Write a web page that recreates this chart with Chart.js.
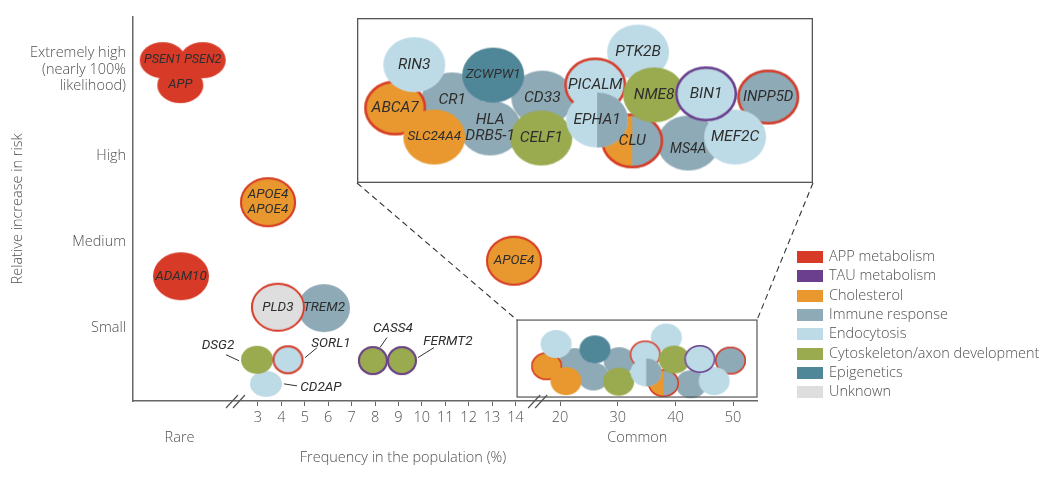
<!DOCTYPE html>
<html>
<head>
<meta charset="utf-8">
<script src="https://cdn.jsdelivr.net/npm/chart.js@4"></script>
<style>
  body { margin: 0; background: #fff; }
  #wrap { position: relative; width: 1052px; height: 479px; }
  #inset { position: absolute; left: 357px; top: 18px; }
</style>
</head>
<body>
<div id="wrap">
  <canvas id="chart" width="1052" height="479"></canvas>
  <canvas id="inset" width="456" height="165"></canvas>
</div>
<script>
// pathways (legend)
const pathways = ["APP metabolism", "TAU metabolism", "Cholesterol", "Immune response",
  "Endocytosis", "Cytoskeleton/axon development", "Epigenetics", "Unknown"];
const pathwayColors = ["#d73b28", "#6b3f8d", "#e8982f", "#8eaab6", "#bddbe6", "#99aa4f", "#4f8698", "#dedede"];

// genes in the main plot. freq in %, the rare ones (<1%) sit in the band left of the axis break
const genes = ["PSEN1", "PSEN2", "APP", "ADAM10", "APOE4\nAPOE4", "APOE4", "TREM2", "PLD3", "CD2AP", "DSG2", "SORL1", "CASS4", "FERMT2"];
const freq = [0.31, 0.88, 0.56, 0.57, 3.43, 13.94, 5.82, 3.85, 3.34, 2.96, 4.28, 7.91, 9.15];
const risk = [4.11, 4.11, 3.82, 1.60, 2.46, 1.78, 1.23, 1.24, 0.35, 0.63, 0.63, 0.62, 0.62];
const pathway = [0, 0, 0, 0, 2, 2, 3, 7, 4, 5, 4, 5, 5];
const ring = [null, null, null, null, 0, 0, null, 0, null, null, 0, 1, 1];

// common variants (small box, shown enlarged in the inset)
const commonGenes = ["CR1", "CD33", "HLA\nDRB5-1", "ABCA7", "RIN3", "ZCWPW1", "SLC24A4", "CELF1", "PTK2B",
  "PICALM", "MS4A", "CLU", "EPHA1", "NME8", "INPP5D", "MEF2C", "BIN1"];
const commonFreq = [22.55, 30.25, 25.79, 17.68, 19.31, 26.05, 21.02, 30.16, 38.43, 34.77, 42.72, 37.93, 34.93, 39.80, 49.55, 46.72, 44.24];
const commonRisk = [0.603, 0.614, 0.436, 0.555, 0.813, 0.751, 0.382, 0.376, 0.888, 0.692, 0.346, 0.359, 0.483, 0.633, 0.620, 0.382, 0.639];
const commonPathway = [3, 3, 3, 2, 4, 6, 2, 5, 4, 4, 3, 2, 4, 5, 3, 4, 4];
const commonPathway2 = [null, null, null, null, null, null, null, null, null, null, null, 3, 3, null, null, null, null];
const commonRing = [null, null, null, 0, null, null, null, null, null, 0, null, 0, null, null, 0, null, 1];

// axes
const riskLevels = [1, 2, 3, 4];
const riskLabels = [["Small"], ["Medium"], ["High"], ["Extremely high", "(nearly 100%", "likelihood)"]];
const xTickValues = [3, 4, 5, 6, 7, 8, 9, 10, 11, 12, 13, 14, 20, 30, 40, 50];
const xTickLabels = xTickValues.map(String);

// broken frequency axis: rare band | 3..14 linear | 20..50 compressed
function axisX(f) {
  if (f <= 1) return -2 + 3 * f;
  if (f <= 14) return f;
  return 15.906 + (f - 20) * 0.2464;
}

// ---- styles ----
const mainShape = [[46, 36], [46, 36], [46, 36], [56, 48], [56, 50], [56, 50], [52, 48], [54, 49],
  [32, 26], [32, 28], [31, 29], [30, 29], [30, 29]];
const mainLabelSize = { PSEN1: 12.5, PSEN2: 12.5, APP: 13 };
const insetLabelSize = { ZCWPW1: 13.5, SLC24A4: 13.5, MS4A: 14, INPP5D: 15 };
const insetLabelDy = { MS4A: 6 };
const callouts = {
  DSG2: { dx: -39, dy: -14, line: [-31, -5, -18, 1] },
  SORL1: { dx: 43, dy: -16, line: [29, -12, 17, -2] },
  CD2AP: { dx: 55, dy: 4, line: [18, 0, 31, 2] },
  CASS4: { dx: 20, dy: -32, line: [14, -23, 7, -13] },
  FERMT2: { dx: 46, dy: -19, line: [32, -13, 16, -3] }
};
const zoomBox = { x0: 14.07, x1: 24.32, y0: 0.197, y1: 1.091 };
const insetBox = { left: 357, top: 18, right: 813, bottom: 183 };
const textColor = "#505050";
const labelColor = "#2e2e2e";
const FONT = "'Open Sans', 'Liberation Sans', sans-serif";
const LABEL_FONT = "Roboto, 'Liberation Sans', sans-serif";

Chart.defaults.font.family = FONT;
Chart.defaults.font.size = 14.5;
Chart.defaults.font.weight = 300;
Chart.defaults.color = textColor;

function sprite(w, h, fill, fill2, ringColor, lw) {
  const pad = 3;
  const c = document.createElement("canvas");
  c.width = w + pad * 2;
  c.height = h + pad * 2;
  const g = c.getContext("2d");
  const cx = c.width / 2, cy = c.height / 2;
  g.save();
  g.beginPath();
  g.ellipse(cx, cy, w / 2, h / 2, 0, 0, Math.PI * 2);
  g.clip();
  g.fillStyle = fill;
  g.fillRect(0, 0, c.width, c.height);
  if (fill2) {
    g.fillStyle = fill2;
    g.fillRect(cx, 0, c.width, c.height);
  }
  g.restore();
  if (ringColor) {
    g.beginPath();
    g.ellipse(cx, cy, w / 2 - lw / 2, h / 2 - lw / 2, 0, 0, Math.PI * 2);
    g.lineWidth = lw;
    g.strokeStyle = ringColor;
    g.stroke();
  }
  return c;
}
const col = i => (i === null ? null : pathwayColors[i]);

const mainSprites = genes.map((g, i) => sprite(mainShape[i][0], mainShape[i][1], col(pathway[i]), null, col(ring[i]), 2));
const smallSprites = commonGenes.map((g, i) => sprite(31, 28, col(commonPathway[i]), col(commonPathway2[i]), col(commonRing[i]), 1.5));
const insetSprites = commonGenes.map((g, i) => sprite(62, 55, col(commonPathway[i]), col(commonPathway2[i]), col(commonRing[i]), 2.5));

function drawLabel(ctx, text, x, y, size) {
  const lines = text.split("\n");
  ctx.font = "italic " + size + "px " + LABEL_FONT;
  ctx.fillStyle = labelColor;
  ctx.textAlign = "center";
  ctx.textBaseline = "middle";
  const lh = size + 1;
  lines.forEach((l, k) => ctx.fillText(l, x, y + (k - (lines.length - 1) / 2) * lh));
}

const decor = {
  id: "decor",
  afterDatasetsDraw(chart) {
    const ctx = chart.ctx;
    const meta = chart.getDatasetMeta(1);
    ctx.save();
    meta.data.forEach((el, i) => {
      const c = callouts[genes[i]];
      const size = mainLabelSize[genes[i]] || 13.5;
      if (c) {
        ctx.strokeStyle = "#333";
        ctx.lineWidth = 1;
        ctx.beginPath();
        ctx.moveTo(el.x + c.line[0], el.y + c.line[1]);
        ctx.lineTo(el.x + c.line[2], el.y + c.line[3]);
        ctx.stroke();
        drawLabel(ctx, genes[i], el.x + c.dx, el.y + c.dy, size);
      } else {
        drawLabel(ctx, genes[i], el.x, el.y, size);
      }
    });
    ctx.restore();
  },
  afterDraw(chart) {
    const { ctx, scales: { x, y } } = chart;
    ctx.save();
    // zoom box
    const bx0 = x.getPixelForValue(zoomBox.x0), bx1 = x.getPixelForValue(zoomBox.x1);
    const by0 = y.getPixelForValue(zoomBox.y1), by1 = y.getPixelForValue(zoomBox.y0);
    ctx.strokeStyle = "#555";
    ctx.lineWidth = 1.2;
    ctx.strokeRect(bx0, by0, bx1 - bx0, by1 - by0);
    // dashed connectors to the inset
    ctx.setLineDash([6, 4]);
    ctx.strokeStyle = "#333";
    ctx.lineWidth = 1.1;
    ctx.beginPath();
    ctx.moveTo(insetBox.left, insetBox.bottom);
    ctx.lineTo(bx0, by0);
    ctx.moveTo(insetBox.right, insetBox.bottom);
    ctx.lineTo(bx1, by0);
    ctx.stroke();
    ctx.setLineDash([]);
    // axis breaks
    const axisY = chart.chartArea.bottom;
    [2.06, 14.97].forEach(u => {
      const px = x.getPixelForValue(u);
      ctx.strokeStyle = "#555";
      ctx.lineWidth = 1.2;
      ctx.beginPath();
      ctx.moveTo(px - 10, axisY + 7); ctx.lineTo(px + 2, axisY - 6);
      ctx.moveTo(px - 3, axisY + 7); ctx.lineTo(px + 9, axisY - 6);
      ctx.stroke();
    });
    // axis texts
    ctx.fillStyle = textColor;
    ctx.font = "300 14.5px " + FONT;
    ctx.textAlign = "center";
    ctx.textBaseline = "middle";
    ctx.fillText("Rare", x.getPixelForValue(axisX(0.55)), 438);
    ctx.fillText("Common", x.getPixelForValue(axisX(33.4)), 438);
    ctx.fillText("Frequency in the population (%)", 403, 458);
    // legend
    ctx.textAlign = "left";
    pathways.forEach((p, i) => {
      const cy = 257 + i * 19.3;
      ctx.fillStyle = pathwayColors[i];
      ctx.fillRect(797, Math.round(cy - 6), 26, 12);
      ctx.fillStyle = textColor;
      ctx.fillText(p, 829, cy);
    });
    ctx.restore();
  }
};

new Chart(document.getElementById("chart"), {
  type: "bubble",
  data: {
    datasets: [
      {
        label: "common",
        data: commonGenes.map((g, i) => ({ x: axisX(commonFreq[i]), y: commonRisk[i], r: 14 })),
        pointStyle: c => smallSprites[c.dataIndex]
      },
      {
        label: "genes",
        data: genes.map((g, i) => ({ x: axisX(freq[i]), y: risk[i], r: 20 })),
        pointStyle: c => mainSprites[c.dataIndex]
      }
    ]
  },
  options: {
    responsive: false,
    animation: false,
    events: [],
    layout: { autoPadding: false, padding: { left: 0, right: 295, top: 17, bottom: 0 } },
    plugins: { legend: { display: false }, tooltip: { enabled: false } },
    scales: {
      x: {
        type: "linear",
        min: -2.34,
        max: 24.32,
        afterBuildTicks: s => { s.ticks = xTickValues.map(v => ({ value: axisX(v) })); },
        afterFit: s => { s.height = 78; s.paddingLeft = 0; s.paddingRight = 0; },
        ticks: { callback: (v, i) => xTickLabels[i], autoSkip: false, maxRotation: 0, minRotation: 0, padding: 3, color: textColor },
        grid: { display: true, drawOnChartArea: false, drawTicks: true, tickLength: 5, color: "#666" },
        border: { display: true, color: "#666", width: 1.5 }
      },
      y: {
        type: "linear",
        min: 0.151,
        max: 4.611,
        afterBuildTicks: s => { s.ticks = riskLevels.map(v => ({ value: v })); },
        afterFit: s => { s.width = 133; s.paddingTop = 0; s.paddingBottom = 0; },
        ticks: { callback: (v, i) => riskLabels[i], padding: 7, color: textColor, font: { size: 14.5, lineHeight: 1.12 } },
        grid: { display: false, drawTicks: false },
        border: { display: true, color: "#666", width: 1.5 },
        title: { display: true, text: "Relative increase in risk", color: textColor, font: { size: 14.5 }, padding: { top: 9, bottom: 0 } }
      }
    }
  },
  plugins: [decor]
});

// enlarged view of the common variants
const insetDecor = {
  id: "insetDecor",
  beforeDraw(chart) {
    const ctx = chart.ctx;
    ctx.save();
    ctx.fillStyle = "#fff";
    ctx.fillRect(0, 0, chart.width, chart.height);
    ctx.restore();
  },
  afterDatasetsDraw(chart) {
    const ctx = chart.ctx;
    ctx.save();
    chart.getDatasetMeta(0).data.forEach((el, i) => {
      const g = commonGenes[i];
      drawLabel(ctx, g, el.x, el.y + (insetLabelDy[g] || 0), insetLabelSize[g] || 15.5);
    });
    ctx.restore();
  },
  afterDraw(chart) {
    const ctx = chart.ctx;
    ctx.save();
    ctx.strokeStyle = "#555";
    ctx.lineWidth = 1.3;
    ctx.strokeRect(0.65, 0.65, chart.width - 1.3, chart.height - 1.3);
    ctx.restore();
  }
};

new Chart(document.getElementById("inset"), {
  type: "bubble",
  data: {
    datasets: [{
      label: "common",
      data: commonGenes.map((g, i) => ({ x: axisX(commonFreq[i]), y: commonRisk[i], r: 28 })),
      pointStyle: c => insetSprites[c.dataIndex],
      clip: false
    }]
  },
  options: {
    responsive: false,
    animation: false,
    events: [],
    layout: { autoPadding: false, padding: 0 },
    plugins: { legend: { display: false }, tooltip: { enabled: false } },
    scales: {
      x: { type: "linear", display: false, min: 14.53, max: 24.13 },
      y: { type: "linear", display: false, min: 0.108, max: 1.091 }
    }
  },
  plugins: [insetDecor]
});
</script>
</body>
</html>
